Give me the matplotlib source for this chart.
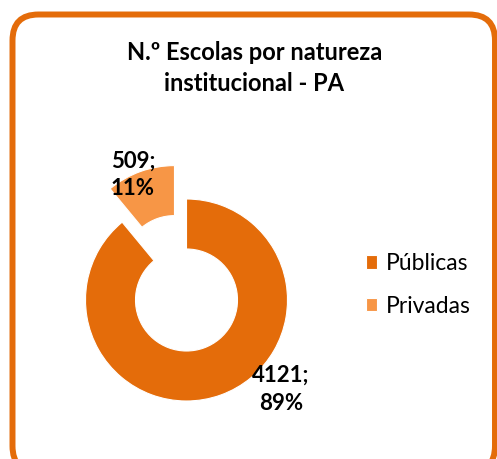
import matplotlib
matplotlib.use("Agg")
import matplotlib.pyplot as plt
from matplotlib.patches import FancyBboxPatch

# Data
categories = ["Públicas", "Privadas"]
escolas = [4121, 509]
percent = [89, 11]
colors = ["#E46C0A", "#F79646"]

plt.rcParams['font.family'] = ['Lato', 'DejaVu Sans']

fig = plt.figure(figsize=(4.97, 4.59), dpi=100)
fig.patch.set_facecolor("white")

# Rounded orange frame (in inches, partly off the bottom edge)
frame = FancyBboxPatch((0.125, -0.13), 4.825, 4.575,
                       boxstyle="round,pad=0,rounding_size=0.26",
                       transform=fig.dpi_scale_trans,
                       facecolor="none", edgecolor="#E46C0A",
                       linewidth=4.3, clip_on=False, zorder=-1)
fig.patches.append(frame)

# Axes placed so that 1 data unit = 100 px, donut centre at (186.5, 300) px
W, H = 497, 459
cx, cy = 186.5, 300
ax = fig.add_axes([(cx - 150) / W, (H - cy - 150) / H, 300 / W, 300 / H])

wedges, _ = ax.pie(escolas, colors=colors, startangle=90, counterclock=False,
                   radius=1.01, explode=[0, 0.355],
                   wedgeprops=dict(width=0.5, edgecolor="white", linewidth=0.8))

# pie() resets the limits, so set them afterwards
ax.set_xlim(-1.5, 1.5)
ax.set_ylim(-1.5, 1.5)
ax.set_aspect("equal")
ax.axis("off")

# Data labels "value;\npercent%"
label_pos = [(0.945, -0.895), (-0.535, 1.25)]
for v, p, (lx, ly) in zip(escolas, percent, label_pos):
    ax.text(lx, ly, "%d;\n%d%%" % (v, p), ha="center", va="center",
            fontsize=16, fontweight="bold", linespacing=1.4, color="black")

fig.text(0.512, 0.852, "N.º Escolas por natureza\ninstitucional - PA",
         ha="center", va="center", fontsize=17, fontweight="bold",
         linespacing=1.45)

leg = fig.legend(wedges, categories, loc="center left",
                 bbox_to_anchor=(345 / W, 1 - 285 / H), frameon=False,
                 fontsize=16.5, handlelength=0.5, handleheight=0.5,
                 handletextpad=0.4, labelspacing=0.95)

fig.savefig("out.png", dpi=100)
